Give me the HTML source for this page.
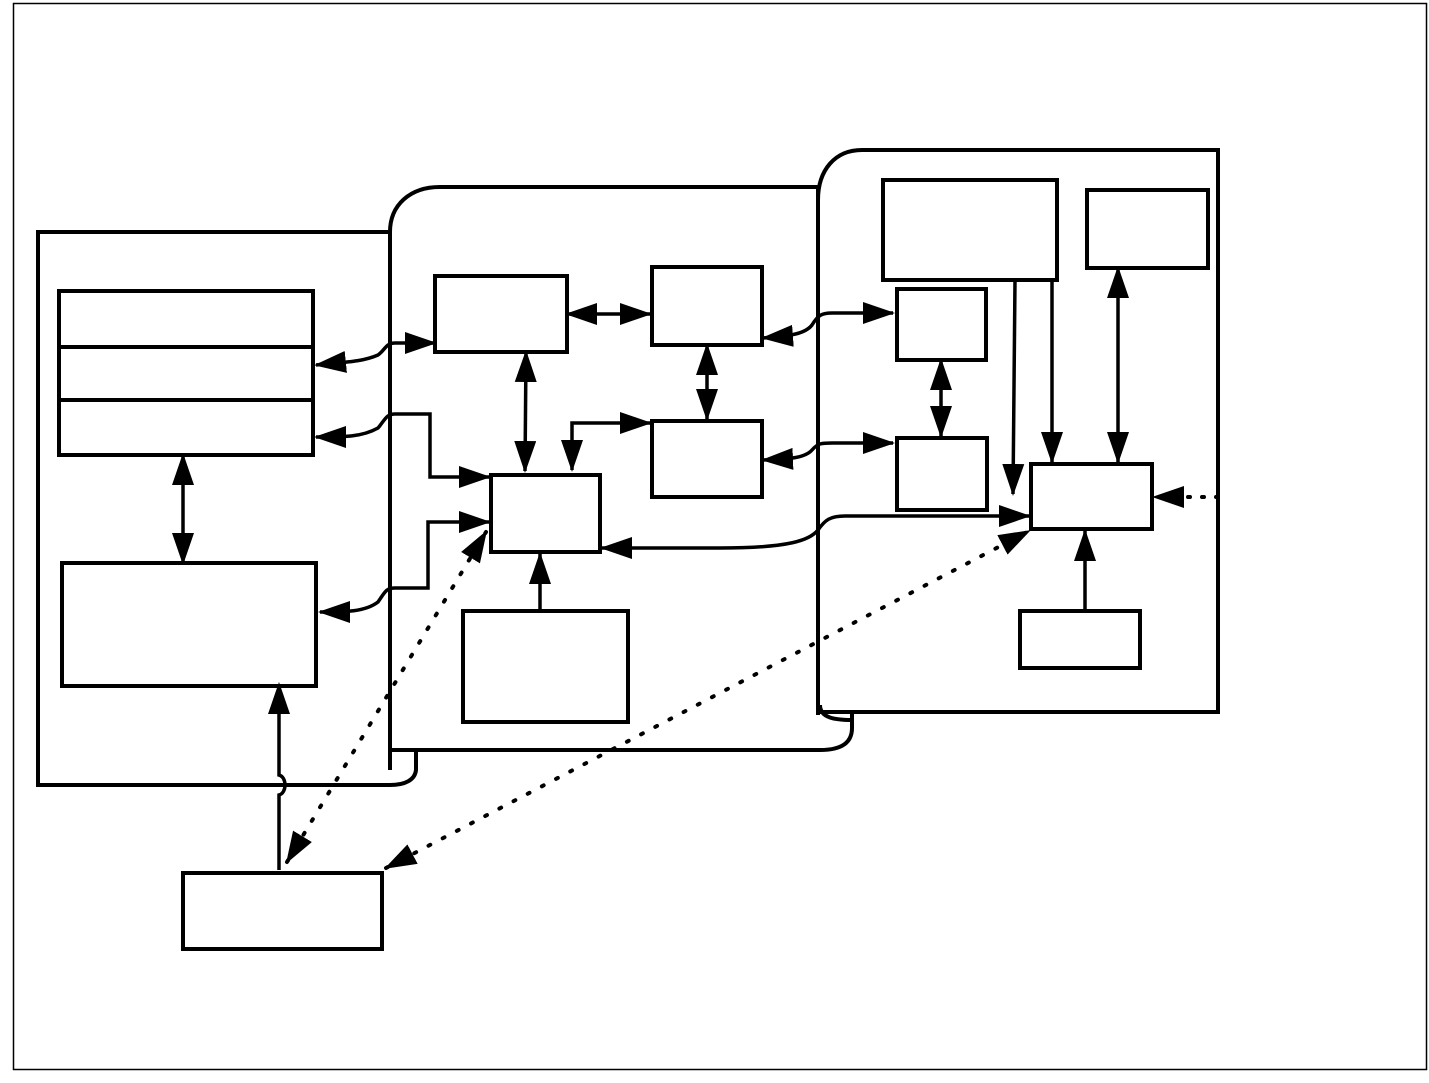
<!DOCTYPE html>
<html><head><style>html,body{margin:0;padding:0;background:#fff}svg{display:block}</style></head>
<body>
<svg width="1429" height="1083" viewBox="0 0 1429 1083" xmlns="http://www.w3.org/2000/svg">
<defs>
<marker id="a" markerUnits="userSpaceOnUse" markerWidth="34" markerHeight="24" refX="30" refY="11" orient="auto-start-reverse">
<path d="M0,0 L32,11 L0,22 z" fill="#000" stroke="none"/></marker>
</defs>
<rect x="13.5" y="3.5" width="1413" height="1066" fill="none" stroke="#000" stroke-width="1.5"/>
<g fill="none" stroke="#000" stroke-width="4">
<path d="M390,232 H38 V785 H390 C405,785 415,780 416,770 V750"/>
<path d="M390,770 V232 C390,205 410,187 440,187 H818"/>
<path d="M390,750 H820 C845,750 852,740 852,728 V713"/>
<path d="M818,187 V715"/>
<path d="M818,200 C818,170 835,150 862,150 H1218 V712 H818"/>
<path d="M820,705 C820,718 835,720 852,720"/>
<rect x="59" y="291" width="254" height="164"/>
<line x1="59" y1="347" x2="313" y2="347"/>
<line x1="59" y1="400" x2="313" y2="400"/>
<rect x="62" y="563" width="254" height="123"/>
<rect x="183" y="873" width="199" height="76"/>
<rect x="435" y="276" width="132" height="76"/>
<rect x="652" y="267" width="110" height="78"/>
<rect x="652" y="421" width="110" height="76"/>
<rect x="491" y="475" width="109" height="77"/>
<rect x="463" y="611" width="165" height="111"/>
<rect x="883" y="180" width="174" height="100"/>
<rect x="1087" y="190" width="121" height="78"/>
<rect x="897" y="289" width="89" height="71"/>
<rect x="897" y="438" width="90" height="72"/>
<rect x="1031" y="464" width="121" height="65"/>
<rect x="1020" y="611" width="120" height="57"/>
</g>
<g fill="none" stroke="#000" stroke-width="3.5" marker-end="url(#a)">
<path d="M183,455 V563" marker-start="url(#a)"/>
<path d="M316,365 C345,362 362,362 378,355 C385,350 386,343 395,343 H435" marker-start="url(#a)"/>
<path d="M316,437 C345,437 362,437 378,428 C385,420 386,414 395,414 H430 V477 H489" marker-start="url(#a)"/>
<path d="M320,612 C345,612 365,612 378,602 C385,592 386,588 395,588 H428 V522 H489" marker-start="url(#a)"/>
<path d="M279,870 V795 C287,793 287,777 279,775 V684"/>
<path d="M567,314 H650" marker-start="url(#a)"/>
<path d="M707,345 V419" marker-start="url(#a)"/>
<path d="M526,352 L525,471" marker-start="url(#a)"/>
<path d="M572,470 V423 H650" marker-start="url(#a)"/>
<path d="M540,610 V554"/>
<path d="M602,548 H720 C790,548 810,540 818,530 C825,520 830,516 845,516 H1029" marker-start="url(#a)"/>
<path d="M763,338 C790,336 805,334 812,325 C818,315 822,313 832,313 H893" marker-start="url(#a)"/>
<path d="M763,460 C790,459 805,458 812,450 C818,443 822,443 832,443 H893" marker-start="url(#a)"/>
<path d="M941,360 V436" marker-start="url(#a)"/>
<path d="M1015,280 L1013,494"/>
<path d="M1052,280 V462"/>
<path d="M1118,268 V462" marker-start="url(#a)"/>
<path d="M1085,610 V531"/>
</g>
<g fill="none" stroke="#000" stroke-width="4" stroke-dasharray="2,14" stroke-linecap="round">
<path d="M1218,497 H1154" marker-end="url(#a)" stroke-dasharray="2,12"/>
<path d="M287,862 L486,532" marker-start="url(#a)" marker-end="url(#a)"/>
<path d="M386,868 L1029,531" marker-start="url(#a)" marker-end="url(#a)"/>
</g>
</svg>
</body></html>
